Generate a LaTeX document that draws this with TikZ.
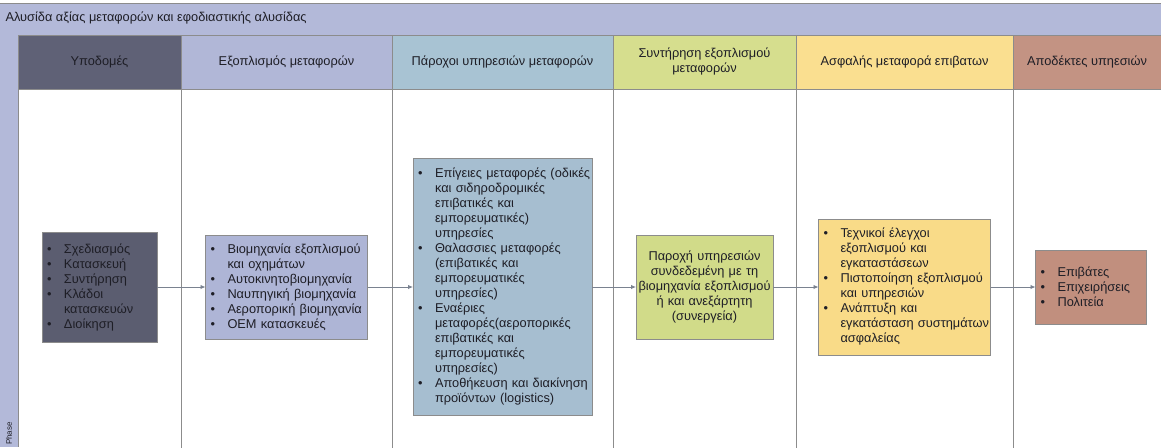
\documentclass[tikz,border=0pt]{standalone}
\usepackage{fontspec}
\setmainfont{Liberation Sans}
\usetikzlibrary{positioning}
\usetikzlibrary{arrows.meta}

\definecolor{framefill}{HTML}{B3B9D9}
\definecolor{linegray}{HTML}{8C8C8C}
\definecolor{arrowgray}{HTML}{7A8290}
\definecolor{textdark}{HTML}{1E1E26}
\definecolor{infrahead}{HTML}{5F6176}
\definecolor{infrafill}{HTML}{5B5D70}
\definecolor{equiphead}{HTML}{B1B7D7}
\definecolor{equipfill}{HTML}{AEB5D6}
\definecolor{provhead}{HTML}{A8C3D3}
\definecolor{provfill}{HTML}{A6BED0}
\definecolor{mainthead}{HTML}{D6DE8E}
\definecolor{maintfill}{HTML}{D1DB89}
\definecolor{safehead}{HTML}{FADF90}
\definecolor{safefill}{HTML}{F9DB88}
\definecolor{recvhead}{HTML}{C39383}
\definecolor{recvfill}{HTML}{C18F7E}

\newcommand{\itm}[1]{\makebox[17pt][l]{\textbullet}\mbox{#1}}
\newcommand{\cnt}[1]{\hspace*{17pt}\mbox{#1}}

\begin{document}
\begin{tikzpicture}[x=1pt, y=-1pt,
    head/.style = {draw=linegray, minimum height=54pt, inner sep=2pt, outer sep=0pt,
      align=center, text=textdark, font=\fontsize{12.8}{15}\selectfont},
    stage/.style = {draw=linegray, outer sep=0pt, inner xsep=5pt, inner ysep=2pt,
      text=textdark, align=left, font=\fontsize{12.8}{15}\selectfont},
    lane/.style = {draw=linegray},
    flow/.style = {draw=arrowgray, line width=0.9pt, -{Latex[length=5pt,width=4.5pt]}}
  ]
  \useasboundingbox (0,0) rectangle (1161,447);

  % frame: title band and left strip
  \fill[framefill] (0,3) rectangle (1161,35);
  \draw[linegray] (0,3) -- (1161,3);
  \fill[framefill] (0,35) rectangle (18,447);
  \draw[linegray] (18,35) -- (18,447);
  \node[anchor=west, text=textdark, font=\fontsize{12.8}{14}\selectfont] (title) at (2,18) {Αλυσίδα αξίας μεταφορών και εφοδιαστικής αλυσίδας};
  \node[rotate=90, anchor=west, inner sep=0pt, text=textdark, font=\fontsize{8}{9}\selectfont] (phase) at (9,445) {Phase};

  % column heads
  \node[head, fill=infrahead, minimum width=163pt, anchor=north west] (infra head) at (18,35) {Υποδομές};
  \node[head, fill=equiphead, minimum width=211pt, right=0pt of infra head] (equip head) {Εξοπλισμός μεταφορών};
  \node[head, fill=provhead, minimum width=221pt, right=0pt of equip head] (prov head) {Πάροχοι υπηρεσιών μεταφορών};
  \node[head, fill=mainthead, minimum width=183pt, right=0pt of prov head] (maint head) {Συντήρηση εξοπλισμού\\μεταφορών};
  \node[head, fill=safehead, minimum width=217pt, right=0pt of maint head] (safe head) {Ασφαλής μεταφορά επιβατων};
  \node[head, fill=recvhead, minimum width=148pt, right=0pt of safe head] (recv head) {Αποδέκτες υπηεσιών};

  % lanes
  \foreach \h in {infra head, equip head, prov head, maint head, safe head}
    \draw[lane] (\h.south east) -- ++(0,360);

  \coordinate (mid line) at (0,287);

  % stages
  \node[stage, fill=infrafill, text width=105pt, minimum height=110pt] (infra box) at (infra head |- mid line) {%
    \itm{Σχεδιασμός}\\
    \itm{Κατασκευή}\\
    \itm{Συντήρηση}\\
    \itm{Κλάδοι}\\
    \cnt{κατασκευών}\\
    \itm{Διοίκηση}};
  \node[stage, fill=equipfill, text width=152pt, minimum height=104pt] (equip box) at (equip head |- mid line) {%
    \itm{Βιομηχανία εξοπλισμού}\\
    \cnt{και οχημάτων}\\
    \itm{Αυτοκινητοβιομηχανία}\\
    \itm{Ναυπηγική βιομηχανία}\\
    \itm{Αεροπορική βιομηχανία}\\
    \itm{ΟΕΜ κατασκευές}};
  \node[stage, fill=provfill, text width=169pt, minimum height=257pt] (prov box) at (prov head |- mid line) {%
    \itm{Επίγειες μεταφορές (οδικές}\\
    \cnt{και σιδηροδρομικές}\\
    \cnt{επιβατικές και}\\
    \cnt{εμπορευματικές)}\\
    \cnt{υπηρεσίες}\\
    \itm{Θαλασσιες μεταφορές}\\
    \cnt{(επιβατικές και}\\
    \cnt{εμπορευματικές}\\
    \cnt{υπηρεσίες)}\\
    \itm{Εναέριες}\\
    \cnt{μεταφορές(αεροπορικές}\\
    \cnt{επιβατικές και}\\
    \cnt{εμπορευματικές}\\
    \cnt{υπηρεσίες)}\\
    \itm{Αποθήκευση και διακίνηση}\\
    \cnt{προϊόντων (logistics)}};
  \node[stage, fill=maintfill, text width=133pt, inner xsep=2pt, minimum height=104pt, align=center] (maint box) at (maint head |- mid line) {%
    Παροχή υπηρεσιών\\
    συνδεδεμένη με τη\\
    \mbox{βιομηχανία εξοπλισμού}\\
    ή και ανεξάρτητη\\
    (συνεργεία)};
  \node[stage, fill=safefill, text width=162pt, minimum height=136pt] (safe box) at (safe head |- mid line) {%
    \itm{Τεχνικοί έλεγχοι}\\
    \cnt{εξοπλισμού και}\\
    \cnt{εγκαταστάσεων}\\
    \itm{Πιστοποίηση εξοπλισμού}\\
    \cnt{και υπηρεσιών}\\
    \itm{Ανάπτυξη και}\\
    \cnt{εγκατάσταση συστημάτων}\\
    \cnt{ασφαλείας}};
  \node[stage, fill=recvfill, text width=101pt, minimum height=74pt] (recv box) at ([xshift=4pt]recv head |- mid line) {%
    \itm{Επιβάτες}\\
    \itm{Επιχειρήσεις}\\
    \itm{Πολιτεία}};

  \draw[flow] (infra box) -- (equip box);
  \draw[flow] (equip box) -- (prov box);
  \draw[flow] (prov box) -- (maint box);
  \draw[flow] (maint box) -- (safe box);
  \draw[flow] (safe box) -- (recv box);
\end{tikzpicture}
\end{document}
